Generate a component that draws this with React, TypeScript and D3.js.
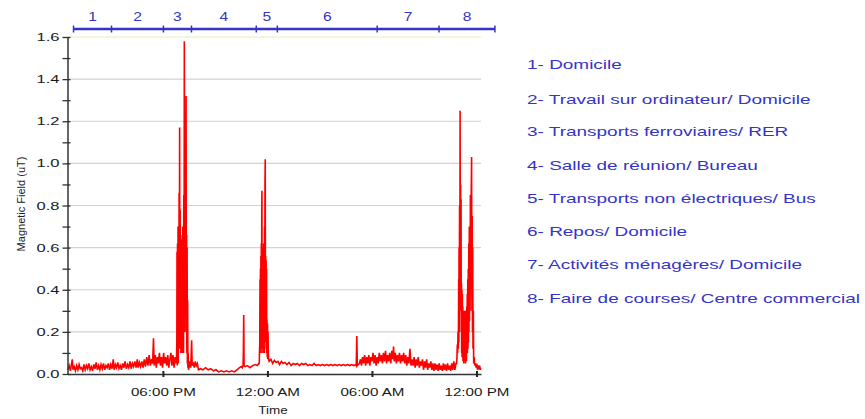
import React, { useEffect, useRef } from 'react';
import * as d3 from 'd3';

// time in decimal hours since midnight of day 1 (values > 24 are the next day), field in uT
const homeMorning: [number, number][] = [
  [12.55, 0.02], [12.62, 0.04], [12.69, 0.015], [12.76, 0.05], [12.8, 0.07], [12.84, 0.02],
  [12.91, 0.035], [12.98, 0.015], [13.05, 0.04], [13.12, 0.02], [13.19, 0.045], [13.26, 0.025],
  [13.33, 0.03], [13.4, 0.015], [13.47, 0.045], [13.54, 0.02], [13.61, 0.04], [13.68, 0.025],
  [13.75, 0.05], [13.82, 0.02], [13.89, 0.035], [13.96, 0.015], [14.03, 0.045], [14.1, 0.025],
  [14.17, 0.055], [14.24, 0.02], [14.31, 0.04], [14.38, 0.02], [14.45, 0.045], [14.52, 0.025],
  [14.59, 0.05], [14.66, 0.02], [14.73, 0.04], [14.8, 0.03], [14.87, 0.05], [14.94, 0.02],
  [15.01, 0.045], [15.08, 0.025], [15.15, 0.07], [15.2, 0.02], [15.27, 0.045], [15.34, 0.03],
  [15.41, 0.055], [15.48, 0.025], [15.55, 0.04], [15.62, 0.02], [15.69, 0.05], [15.76, 0.03],
  [15.83, 0.06], [15.9, 0.025], [15.97, 0.045], [16.04, 0.03], [16.11, 0.06], [16.18, 0.025],
  [16.25, 0.05], [16.32, 0.035], [16.39, 0.06], [16.46, 0.03], [16.53, 0.07], [16.58, 0.03],
  [16.65, 0.055], [16.72, 0.035], [16.79, 0.06], [16.86, 0.03],
];

const computerWork: [number, number][] = [
  [16.93, 0.07], [17.0, 0.035], [17.07, 0.08], [17.14, 0.04], [17.21, 0.09], [17.28, 0.04],
  [17.35, 0.07], [17.41, 0.05], [17.46, 0.17], [17.5, 0.04], [17.56, 0.09], [17.62, 0.03],
  [17.68, 0.08], [17.74, 0.05], [17.8, 0.1], [17.86, 0.04], [17.92, 0.08], [17.98, 0.03],
  [18.04, 0.1], [18.1, 0.05], [18.16, 0.08], [18.22, 0.04], [18.28, 0.09], [18.34, 0.03],
  [18.4, 0.07], [18.46, 0.1], [18.52, 0.04], [18.58, 0.09], [18.64, 0.03], [18.7, 0.08],
  [18.75, 0.05],
];

const trainPeak: [number, number][] = [
  [18.78, 0.07], [18.8, 0.15], [18.81, 0.58], [18.825, 0.04], [18.84, 0.62], [18.855, 0.08],
  [18.87, 0.7], [18.885, 0.05], [18.9, 0.64], [18.915, 0.12], [18.93, 0.86], [18.945, 0.2],
  [18.96, 1.17], [18.975, 0.3], [18.99, 0.78], [19.005, 0.12], [19.02, 0.66], [19.035, 0.1],
  [19.05, 0.6], [19.065, 0.12], [19.08, 0.64], [19.095, 0.1], [19.11, 0.6], [19.125, 0.14],
  [19.14, 0.7], [19.155, 0.12], [19.17, 0.62], [19.185, 0.1], [19.2, 0.85], [19.215, 0.3],
  [19.23, 1.58], [19.245, 0.4], [19.26, 0.9], [19.275, 0.2], [19.29, 0.68], [19.305, 0.3],
  [19.32, 0.8], [19.33, 1.32], [19.345, 0.35], [19.36, 0.66], [19.375, 0.1], [19.39, 0.6],
  [19.405, 0.05], [19.42, 0.35], [19.435, 0.03], [19.45, 0.1], [19.47, 0.02],
];

const meetingRoom: [number, number][] = [
  [19.5, 0.03], [19.55, 0.06], [19.6, 0.03], [19.65, 0.16], [19.68, 0.04], [19.74, 0.05],
  [19.8, 0.03], [19.86, 0.06], [19.92, 0.04], [19.98, 0.05], [20.04, 0.02], [20.15, 0.025],
  [20.3, 0.02], [20.45, 0.03], [20.6, 0.02], [20.75, 0.025], [20.9, 0.015], [21.05, 0.02],
  [21.2, 0.01], [21.35, 0.015], [21.5, 0.01], [21.65, 0.015], [21.8, 0.01], [21.95, 0.015],
  [22.1, 0.01], [22.25, 0.02], [22.4, 0.03], [22.5, 0.035], [22.56, 0.03], [22.6, 0.04],
  [22.62, 0.1], [22.64, 0.28], [22.66, 0.04], [22.72, 0.035], [22.85, 0.04], [23.0, 0.03],
  [23.15, 0.04], [23.3, 0.045], [23.42, 0.04], [23.5, 0.05],
];

const busPeak: [number, number][] = [
  [23.53, 0.05], [23.55, 0.12], [23.56, 0.15], [23.575, 0.45], [23.585, 0.1], [23.6, 0.5],
  [23.61, 0.12], [23.625, 0.56], [23.635, 0.1], [23.65, 0.62], [23.66, 0.12], [23.675, 0.78],
  [23.685, 0.87], [23.695, 0.2], [23.71, 0.55], [23.72, 0.12], [23.735, 0.6], [23.745, 0.1],
  [23.76, 0.58], [23.77, 0.1], [23.785, 0.62], [23.795, 0.12], [23.81, 0.55], [23.82, 0.1],
  [23.835, 0.7], [23.845, 0.15], [23.86, 0.9], [23.875, 1.02], [23.885, 0.3], [23.9, 0.56],
  [23.91, 0.15], [23.925, 0.54], [23.935, 0.12], [23.95, 0.5], [23.96, 0.1], [23.975, 0.26],
  [23.99, 0.08], [24.005, 0.24], [24.02, 0.07], [24.035, 0.2], [24.05, 0.1], [24.07, 0.07],
];

const restNight: [number, number][] = [
  [24.1, 0.06], [24.2, 0.07], [24.3, 0.05], [24.4, 0.065], [24.5, 0.055], [24.6, 0.06],
  [24.7, 0.045], [24.8, 0.06], [24.9, 0.05], [25.0, 0.055], [25.12, 0.045], [25.24, 0.055],
  [25.36, 0.04], [25.48, 0.05], [25.6, 0.045], [25.72, 0.05], [25.84, 0.04], [25.96, 0.05],
  [26.08, 0.045], [26.2, 0.05], [26.32, 0.04], [26.44, 0.045], [26.56, 0.04], [26.68, 0.05],
  [26.8, 0.04], [26.92, 0.045], [27.04, 0.04], [27.16, 0.045], [27.28, 0.04], [27.4, 0.045],
  [27.52, 0.04], [27.64, 0.045], [27.76, 0.04], [27.88, 0.045], [28.0, 0.04], [28.12, 0.045],
  [28.24, 0.04], [28.36, 0.045], [28.48, 0.04], [28.6, 0.045], [28.72, 0.04], [28.84, 0.045],
  [28.96, 0.04], [29.06, 0.045], [29.1, 0.04], [29.13, 0.18], [29.16, 0.04], [29.22, 0.045],
];

const houseWork: [number, number][] = [
  [29.28, 0.05], [29.34, 0.07], [29.4, 0.04], [29.46, 0.08], [29.52, 0.05], [29.58, 0.09],
  [29.64, 0.04], [29.7, 0.08], [29.76, 0.05], [29.82, 0.09], [29.88, 0.04], [29.94, 0.08],
  [30.0, 0.06], [30.06, 0.1], [30.12, 0.05], [30.18, 0.09], [30.24, 0.04], [30.3, 0.08],
  [30.36, 0.05], [30.42, 0.1], [30.48, 0.06], [30.54, 0.09], [30.6, 0.05], [30.66, 0.1],
  [30.72, 0.06], [30.78, 0.11], [30.84, 0.05], [30.9, 0.09], [30.96, 0.06], [31.02, 0.1],
  [31.08, 0.05], [31.14, 0.11], [31.2, 0.07], [31.24, 0.13], [31.28, 0.06], [31.34, 0.1],
  [31.4, 0.05], [31.46, 0.09], [31.52, 0.06], [31.58, 0.1], [31.64, 0.05], [31.7, 0.09],
  [31.76, 0.06], [31.82, 0.1], [31.88, 0.05], [31.94, 0.09], [32.0, 0.04], [32.06, 0.08],
  [32.12, 0.05], [32.18, 0.12], [32.24, 0.04], [32.3, 0.07], [32.36, 0.04], [32.42, 0.08],
  [32.48, 0.03], [32.54, 0.07], [32.6, 0.04], [32.66, 0.08], [32.72, 0.03], [32.78, 0.06],
  [32.84, 0.04], [32.9, 0.07], [32.96, 0.02], [33.02, 0.06], [33.08, 0.03], [33.14, 0.07],
  [33.2, 0.02], [33.26, 0.05], [33.32, 0.03], [33.38, 0.06], [33.44, 0.02], [33.5, 0.05],
  [33.56, 0.015], [33.62, 0.05], [33.68, 0.02], [33.74, 0.045], [33.8, 0.015], [33.86, 0.05],
  [33.92, 0.02], [33.98, 0.04], [34.04, 0.015], [34.1, 0.05], [34.16, 0.02], [34.22, 0.045],
  [34.28, 0.015], [34.34, 0.05], [34.4, 0.02], [34.46, 0.04], [34.52, 0.015], [34.58, 0.05],
  [34.64, 0.02], [34.7, 0.06], [34.76, 0.02], [34.82, 0.05],
];

const shoppingPeak: [number, number][] = [
  [34.86, 0.05], [34.88, 0.08], [34.9, 0.14], [34.92, 0.1], [34.94, 0.2], [34.96, 0.12],
  [34.98, 0.45], [34.99, 0.15], [35.0, 0.6], [35.01, 0.2], [35.03, 0.8], [35.045, 0.3],
  [35.06, 1.25], [35.075, 0.4], [35.09, 0.9], [35.1, 0.3], [35.115, 0.83], [35.125, 0.2],
  [35.14, 0.43], [35.15, 0.1], [35.165, 0.4], [35.175, 0.08], [35.19, 0.38], [35.2, 0.1],
  [35.215, 0.32], [35.225, 0.06], [35.24, 0.3], [35.25, 0.12], [35.265, 0.3], [35.275, 0.05],
  [35.29, 0.28], [35.3, 0.1], [35.315, 0.26], [35.325, 0.06], [35.34, 0.3], [35.35, 0.1],
  [35.365, 0.28], [35.375, 0.05], [35.39, 0.3], [35.4, 0.08], [35.415, 0.26], [35.425, 0.06],
  [35.44, 0.32], [35.45, 0.1], [35.47, 0.38], [35.48, 0.1], [35.5, 0.45], [35.51, 0.12],
  [35.53, 0.5], [35.54, 0.15], [35.56, 0.62], [35.57, 0.2], [35.59, 0.7], [35.6, 0.25],
  [35.62, 0.68], [35.635, 0.3], [35.65, 0.85], [35.665, 0.4], [35.68, 0.7], [35.72, 1.03],
  [35.73, 0.5], [35.74, 0.3], [35.755, 0.75], [35.77, 0.2], [35.785, 0.6], [35.8, 0.12],
  [35.82, 0.3], [35.84, 0.05], [35.87, 0.08], [35.9, 0.04], [35.94, 0.05], [35.98, 0.03],
  [36.02, 0.05], [36.06, 0.02], [36.1, 0.04], [36.14, 0.03], [36.18, 0.04], [36.22, 0.02],
  [36.25, 0.03],
];

const series = [
  ...homeMorning, ...computerWork, ...trainPeak, ...meetingRoom,
  ...busPeak, ...restNight, ...houseWork, ...shoppingPeak,
];

// activity periods shown on the bar above the plot (hours)
const activityBounds = [12.87, 15.05, 18.03, 19.64, 23.36, 24.57, 30.3, 33.85, 37.06];
const activityIds = ['1', '2', '3', '4', '5', '6', '7', '8'];

const legendLabels = [
  '1- Domicile',
  '2- Travail sur ordinateur/ Domicile',
  '3- Transports ferroviaires/ RER',
  '4- Salle de réunion/ Bureau',
  '5- Transports non électriques/ Bus',
  '6- Repos/ Domicile',
  '7- Activités ménagères/ Domicile',
  '8- Faire de courses/ Centre commercial',
];

const yTicks = [0, 0.2, 0.4, 0.6, 0.8, 1.0, 1.2, 1.4, 1.6];
const yMinorTicks = [0.1, 0.3, 0.5, 0.7, 0.9, 1.1, 1.3, 1.5];

const FONT = 'Liberation Sans, Arial, sans-serif';
const BLUE = '#3434c8';

function App() {
  const ref = useRef(null);

  useEffect(() => {
    const svg = d3.select(ref.current);
    svg.selectAll('*').remove();

    const width = 865;
    const height = 419;
    const margin = { top: 37, right: 384, bottom: 45, left: 67.5 };

    const base = new Date(2012, 0, 1, 0, 0, 0).getTime();
    const at = (h: number) => new Date(base + h * 3600000);

    const x = d3.scaleTime()
      .domain([at(12.524), at(36.26)])
      .range([margin.left, width - margin.right]);

    const y = d3.scaleLinear()
      .domain([0, 1.6])
      .range([height - margin.bottom, margin.top]);

    const x0 = margin.left;
    const x1 = width - margin.right;

    // grid
    svg.append('g')
      .selectAll('line')
      .data(yTicks.slice(1))
      .join('line')
      .attr('x1', x0)
      .attr('x2', x1)
      .attr('y1', d => y(d))
      .attr('y2', d => y(d))
      .attr('stroke', d => d === 1.6 ? '#efe9b8' : '#d2d2d2')
      .attr('stroke-width', 1.2);

    // data
    const line = d3.line<[number, number]>()
      .x(d => x(at(d[0])))
      .y(d => y(d[1]));

    svg.append('path')
      .datum(series)
      .attr('fill', 'none')
      .attr('stroke', '#ff0000')
      .attr('stroke-width', 1.6)
      .attr('stroke-linejoin', 'miter')
      .attr('d', line);

    // y axis
    const yAxis = svg.append('g')
      .attr('transform', `translate(${x0},0)`)
      .call(d3.axisLeft(y).tickValues(yTicks).tickFormat(d3.format('.1f')).tickSize(5).tickSizeOuter(0));
    yAxis.select('.domain').attr('stroke', '#333').attr('stroke-width', 1.5);
    yAxis.selectAll('.tick line').attr('x1', 3).attr('stroke', '#333').attr('stroke-width', 1.3);
    yAxis.selectAll('.tick text')
      .attr('x', -8 / 1.5)
      .attr('transform', 'scale(1.5,1)')
      .attr('font-family', FONT)
      .attr('font-size', 11)
      .attr('fill', '#1a1a1a');

    const yMinor = svg.append('g')
      .attr('transform', `translate(${x0},0)`)
      .call(d3.axisLeft(y).tickValues(yMinorTicks).tickFormat(() => '').tickSize(5).tickSizeOuter(0));
    yMinor.select('.domain').remove();
    yMinor.selectAll('.tick line').attr('x1', 3).attr('stroke', '#333').attr('stroke-width', 1.3);

    // x axis
    const xAxis = svg.append('g')
      .attr('transform', `translate(0,${y(0)})`)
      .call(d3.axisBottom(x).ticks(d3.timeHour.every(6)).tickFormat(d3.timeFormat('%I:%M %p')).tickSize(3).tickSizeOuter(0));
    xAxis.select('.domain').attr('stroke', '#333').attr('stroke-width', 1.5);
    xAxis.selectAll('.tick line').attr('y1', -3).attr('stroke', '#222').attr('stroke-width', 2);
    xAxis.selectAll('.tick text')
      .attr('y', 14)
      .attr('transform', 'scale(1.38,1)')
      .attr('font-family', FONT)
      .attr('font-size', 11)
      .attr('fill', '#1a1a1a');

    // axis titles
    svg.append('text')
      .attr('transform', `translate(273,414) scale(1.35,1)`)
      .attr('text-anchor', 'middle')
      .attr('font-family', FONT)
      .attr('font-size', 10)
      .attr('fill', '#222')
      .text('Time');

    svg.append('text')
      .attr('transform', `translate(25,204) rotate(-90)`)
      .attr('text-anchor', 'middle')
      .attr('font-family', FONT)
      .attr('font-size', 11)
      .attr('fill', '#222')
      .text('Magnetic Field (uT)');

    // activity bar on top
    const barY = 29;
    const bar = svg.append('g');
    bar.append('line')
      .attr('x1', x(at(activityBounds[0])))
      .attr('x2', x(at(activityBounds[activityBounds.length - 1])))
      .attr('y1', barY)
      .attr('y2', barY)
      .attr('stroke', BLUE)
      .attr('stroke-width', 2.5);
    bar.selectAll('line.b')
      .data(activityBounds)
      .join('line')
      .attr('class', 'b')
      .attr('x1', d => x(at(d)))
      .attr('x2', d => x(at(d)))
      .attr('y1', barY - 3.5)
      .attr('y2', barY + 3.5)
      .attr('stroke', BLUE)
      .attr('stroke-width', 1.5);
    bar.selectAll('text')
      .data(activityIds)
      .join('text')
      .attr('transform', (d, i) => {
        const cx = (x(at(activityBounds[i])) + x(at(activityBounds[i + 1]))) / 2;
        return `translate(${cx},21) scale(1.3,1)`;
      })
      .attr('text-anchor', 'middle')
      .attr('font-family', FONT)
      .attr('font-size', 12)
      .attr('fill', BLUE)
      .text(d => d);

    // legend
    const legendY = [68.5, 103.5, 135.5, 170, 202.5, 236, 269, 302.5];
    svg.append('g')
      .selectAll('text')
      .data(legendLabels)
      .join('text')
      .attr('transform', (d, i) => `translate(527,${legendY[i]}) scale(1.46,1)`)
      .attr('font-family', FONT)
      .attr('font-size', 13)
      .attr('fill', BLUE)
      .text(d => d);
  }, []);

  return (
    <svg
      ref={ref}
      width={865}
      height={419}
      style={{ position: 'absolute', left: 0, top: 0, background: '#fff' }}
    />
  );
}

export default App;
